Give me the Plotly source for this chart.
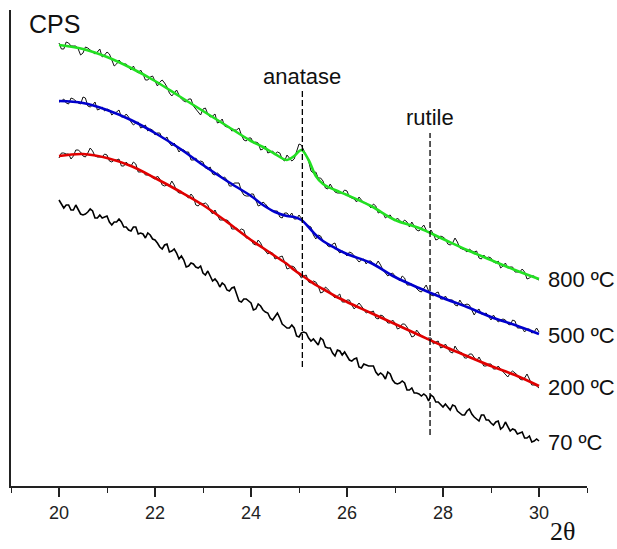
import plotly.graph_objects as go

# ---------------- data ----------------
two_theta = [
    20.00, 20.05, 20.10, 20.15, 20.20, 20.25, 20.30, 20.35, 20.40, 20.45,
    20.50, 20.55, 20.60, 20.65, 20.70, 20.75, 20.80, 20.85, 20.90, 20.95,
    21.00, 21.05, 21.10, 21.15, 21.20, 21.25, 21.30, 21.35, 21.40, 21.45,
    21.50, 21.55, 21.60, 21.65, 21.70, 21.75, 21.80, 21.85, 21.90, 21.95,
    22.00, 22.05, 22.10, 22.15, 22.20, 22.25, 22.30, 22.35, 22.40, 22.45,
    22.50, 22.55, 22.60, 22.65, 22.70, 22.75, 22.80, 22.85, 22.90, 22.95,
    23.00, 23.05, 23.10, 23.15, 23.20, 23.25, 23.30, 23.35, 23.40, 23.45,
    23.50, 23.55, 23.60, 23.65, 23.70, 23.75, 23.80, 23.85, 23.90, 23.95,
    24.00, 24.05, 24.10, 24.15, 24.20, 24.25, 24.30, 24.35, 24.40, 24.45,
    24.50, 24.55, 24.60, 24.65, 24.70, 24.75, 24.80, 24.85, 24.90, 24.95,
    25.00, 25.05, 25.10, 25.15, 25.20, 25.25, 25.30, 25.35, 25.40, 25.45,
    25.50, 25.55, 25.60, 25.65, 25.70, 25.75, 25.80, 25.85, 25.90, 25.95,
    26.00, 26.05, 26.10, 26.15, 26.20, 26.25, 26.30, 26.35, 26.40, 26.45,
    26.50, 26.55, 26.60, 26.65, 26.70, 26.75, 26.80, 26.85, 26.90, 26.95,
    27.00, 27.05, 27.10, 27.15, 27.20, 27.25, 27.30, 27.35, 27.40, 27.45,
    27.50, 27.55, 27.60, 27.65, 27.70, 27.75, 27.80, 27.85, 27.90, 27.95,
    28.00, 28.05, 28.10, 28.15, 28.20, 28.25, 28.30, 28.35, 28.40, 28.45,
    28.50, 28.55, 28.60, 28.65, 28.70, 28.75, 28.80, 28.85, 28.90, 28.95,
    29.00, 29.05, 29.10, 29.15, 29.20, 29.25, 29.30, 29.35, 29.40, 29.45,
    29.50, 29.55, 29.60, 29.65, 29.70, 29.75, 29.80, 29.85, 29.90, 29.95,
    30.00]

raw_800 = [
    444, 438, 438, 445, 444, 441, 441, 441, 438, 432,
    434, 440, 439, 437, 435, 433, 435, 438, 430, 432,
    435, 433, 427, 421, 423, 427, 424, 423, 423, 420,
    417, 421, 416, 414, 417, 413, 407, 407, 410, 411,
    405, 401, 405, 407, 404, 400, 394, 391, 394, 397,
    392, 388, 386, 385, 388, 388, 381, 378, 374, 372,
    378, 379, 373, 370, 371, 373, 364, 365, 368, 361,
    360, 360, 356, 357, 357, 359, 352, 347, 346, 349,
    349, 344, 345, 344, 337, 338, 341, 334, 335, 336,
    333, 335, 334, 328, 326, 332, 329, 326, 328, 336,
    343, 342, 337, 331, 326, 316, 314, 315, 309, 309,
    306, 299, 298, 303, 299, 295, 294, 294, 294, 297,
    296, 290, 289, 288, 285, 290, 287, 284, 284, 281,
    279, 283, 281, 274, 275, 274, 269, 271, 272, 268,
    266, 269, 266, 264, 267, 265, 260, 265, 261, 257,
    256, 259, 262, 257, 254, 257, 253, 247, 248, 251,
    250, 248, 243, 242, 244, 249, 245, 239, 238, 237,
    235, 238, 236, 235, 236, 229, 228, 232, 229, 230,
    229, 225, 224, 226, 219, 221, 224, 219, 220, 220,
    215, 215, 215, 218, 215, 208, 209, 211, 211, 208,
    207]

raw_500 = [
    385, 386, 388, 384, 383, 389, 388, 386, 384, 383,
    390, 389, 381, 380, 382, 385, 377, 378, 380, 376,
    378, 377, 372, 374, 375, 377, 370, 370, 373, 370,
    365, 362, 364, 365, 359, 360, 362, 356, 358, 357,
    352, 354, 354, 349, 348, 350, 344, 341, 344, 340,
    335, 338, 337, 335, 335, 327, 327, 329, 325, 326,
    325, 319, 318, 320, 313, 312, 314, 312, 309, 310,
    307, 301, 301, 304, 304, 304, 296, 292, 291, 291,
    293, 293, 287, 281, 282, 285, 283, 280, 277, 276,
    276, 276, 270, 269, 274, 274, 271, 274, 268, 268,
    272, 269, 265, 262, 261, 260, 252, 248, 252, 251,
    246, 245, 241, 240, 243, 244, 237, 234, 236, 234,
    231, 235, 234, 231, 229, 225, 227, 228, 223, 226,
    226, 222, 222, 226, 222, 217, 214, 211, 213, 214,
    211, 209, 206, 211, 209, 202, 202, 203, 201, 198,
    196, 195, 199, 202, 196, 192, 191, 194, 195, 188,
    188, 191, 187, 187, 187, 182, 181, 187, 183, 182,
    183, 182, 176, 172, 176, 178, 173, 173, 174, 171,
    167, 172, 169, 165, 167, 168, 167, 163, 162, 167,
    166, 159, 159, 159, 155, 158, 158, 154, 155, 159,
    155]

raw_200 = [
    329, 334, 334, 333, 333, 328, 331, 337, 337, 335,
    331, 330, 334, 339, 336, 331, 330, 330, 330, 333,
    332, 326, 325, 327, 327, 328, 321, 321, 325, 322,
    321, 325, 323, 315, 315, 316, 312, 312, 312, 309,
    308, 311, 308, 302, 301, 302, 301, 306, 302, 296,
    294, 294, 294, 291, 289, 293, 290, 282, 281, 284,
    283, 284, 282, 276, 273, 277, 272, 267, 267, 267,
    267, 265, 258, 258, 259, 256, 258, 257, 249, 249,
    247, 243, 242, 247, 244, 239, 236, 233, 235, 234,
    228, 229, 230, 231, 225, 218, 219, 221, 220, 216,
    213, 209, 211, 212, 205, 204, 206, 205, 201, 194,
    195, 200, 198, 195, 191, 189, 191, 193, 185, 185,
    187, 187, 182, 178, 181, 184, 181, 177, 174, 175,
    175, 176, 169, 168, 172, 171, 167, 164, 164, 167,
    164, 158, 159, 163, 163, 160, 155, 150, 151, 157,
    154, 151, 150, 148, 149, 149, 143, 145, 146, 139,
    140, 143, 139, 135, 134, 141, 137, 135, 134, 129,
    129, 133, 133, 130, 126, 130, 125, 121, 121, 123,
    123, 118, 118, 121, 118, 115, 113, 110, 114, 116,
    114, 112, 108, 107, 109, 113, 108, 102, 102, 101,
    99]

raw_70 = [
    287, 283, 279, 282, 282, 277, 277, 282, 278, 273,
    272, 273, 275, 278, 276, 269, 269, 272, 269, 270,
    271, 265, 262, 265, 265, 268, 265, 260, 260, 257,
    256, 260, 260, 253, 254, 253, 249, 254, 252, 248,
    247, 244, 240, 238, 242, 243, 235, 236, 238, 234,
    228, 231, 227, 220, 221, 224, 223, 220, 219, 221,
    214, 212, 216, 211, 206, 208, 205, 200, 204, 202,
    197, 196, 199, 200, 192, 186, 185, 188, 188, 186,
    184, 177, 178, 183, 181, 177, 175, 174, 169, 167,
    170, 174, 169, 163, 161, 159, 159, 162, 159, 151,
    150, 154, 155, 154, 149, 146, 148, 145, 142, 149,
    147, 140, 139, 139, 134, 131, 137, 136, 132, 135,
    131, 127, 126, 128, 129, 120, 119, 123, 122, 121,
    121, 121, 115, 112, 114, 112, 108, 115, 113, 107,
    104, 103, 104, 106, 104, 97, 97, 99, 94, 94,
    93, 91, 93, 91, 86, 92, 90, 85, 85, 82,
    80, 83, 80, 77, 82, 81, 76, 74, 72, 72,
    76, 78, 73, 70, 68, 66, 72, 72, 67, 67,
    64, 62, 65, 66, 58, 60, 65, 61, 56, 58,
    57, 53, 54, 55, 49, 49, 51, 45, 46, 48,
    46]

fit_theta = [20, 20.5, 21, 21.5, 22, 22.5, 23, 23.5, 24, 24.25, 24.5, 24.75,
             24.9, 25.05, 25.2, 25.35, 25.5, 25.75, 26, 26.5, 27, 27.5, 28,
             28.5, 29, 29.5, 30]
fit_800 = [442, 438, 430, 419, 406, 391, 376, 361, 346, 340, 333, 327,
           331, 337, 327, 311, 303, 297, 292, 281, 267, 259, 248,
           237, 227, 217, 208]
fit_500 = [386, 384, 377, 367, 354, 339, 322, 306, 291, 282, 275, 271,
           270, 267, 260, 252, 246, 239, 233, 224, 210, 199, 189,
           180, 170, 162, 153]
fit_200 = [331, 333, 329, 321, 309, 296, 282, 265, 247, 239, 231, 223,
           217, 212, 207, 202, 198, 191, 185, 174, 163, 152, 141,
           131, 121, 112, 101]

series_labels = ["800 ºC", "500 ºC", "200 ºC", "70 ºC"]
label_levels = [208, 152, 100, 45]

phase_names = ["anatase", "rutile"]
phase_positions = [25.07, 27.73]
phase_line_top = [397, 354]
phase_line_bottom = [120, 52]
phase_label_levels = [411, 370]

major_ticks = [20, 22, 24, 26, 28, 30]
minor_ticks = [19, 21, 23, 25, 27, 29, 31]

# ---------------- figure ----------------
fig = go.Figure()

raw_sets = [raw_800, raw_500, raw_200]
fit_sets = [fit_800, fit_500, fit_200]
fit_colors = ["#22e022", "#0000cc", "#e00000"]

for raw in raw_sets:
    fig.add_trace(go.Scatter(x=two_theta, y=raw, mode="lines",
                             line=dict(color="#111111", width=1.0),
                             showlegend=False, hoverinfo="skip"))
fig.add_trace(go.Scatter(x=two_theta, y=raw_70, mode="lines",
                         line=dict(color="#000000", width=1.6),
                         showlegend=False))
for fit, col, name in zip(fit_sets, fit_colors, series_labels[:3]):
    fig.add_trace(go.Scatter(x=fit_theta, y=fit, mode="lines", name=name,
                             line=dict(color=col, width=2.6, shape="spline"),
                             showlegend=False))

# dashed reference lines
for xp, top, bot in zip(phase_positions, phase_line_top, phase_line_bottom):
    fig.add_shape(type="line", x0=xp, x1=xp, y0=bot, y1=top, xref="x", yref="y",
                  line=dict(color="black", width=1.3, dash="6px,3px"))

font_sans = "Liberation Sans, Arial, sans-serif"

for name, xp, lvl in zip(phase_names, phase_positions, phase_label_levels):
    fig.add_annotation(x=xp, y=lvl, text=name, showarrow=False,
                       xanchor="center", yanchor="middle",
                       font=dict(family=font_sans, size=22, color="#111"))

for lab, lvl in zip(series_labels, label_levels):
    fig.add_annotation(x=30.15, y=lvl, text=lab, showarrow=False,
                       xanchor="left", yanchor="middle",
                       font=dict(family=font_sans, size=22, color="#111"))

fig.add_annotation(xref="paper", yref="paper", x=0.028, y=0.971, text="CPS",
                   showarrow=False, xanchor="left", yanchor="middle",
                   font=dict(family=font_sans, size=25, color="#111"))
fig.add_annotation(xref="paper", yref="paper", x=0.958, y=-0.130, text="2θ",
                   showarrow=False, xanchor="center", yanchor="bottom",
                   font=dict(family="Liberation Serif, serif",
                             size=26, color="#111"))

fig.update_layout(
    width=617, height=549,
    margin=dict(l=11, r=30, t=10, b=63),
    paper_bgcolor="white", plot_bgcolor="white",
    showlegend=False,
    xaxis=dict(range=[19, 31], showgrid=False, zeroline=False,
               showline=True, linecolor="#222", linewidth=2,
               tickvals=major_ticks, ticks="outside", ticklen=9,
               tickwidth=1.6, tickcolor="#222",
               tickfont=dict(family=font_sans, size=18, color="#222"),
               minor=dict(tickvals=minor_ticks, ticks="outside", ticklen=5,
                          tickwidth=1.4, tickcolor="#222", showgrid=False)),
    yaxis=dict(range=[1, 477], showgrid=False, zeroline=False,
               showline=True, linecolor="#222", linewidth=2,
               showticklabels=False, ticks=""),
)

fig.write_html(
    "out.html",
    config={"displayModeBar": False},
    post_script="document.body.style.margin='0';"
                "document.body.style.overflow='hidden';",
)
